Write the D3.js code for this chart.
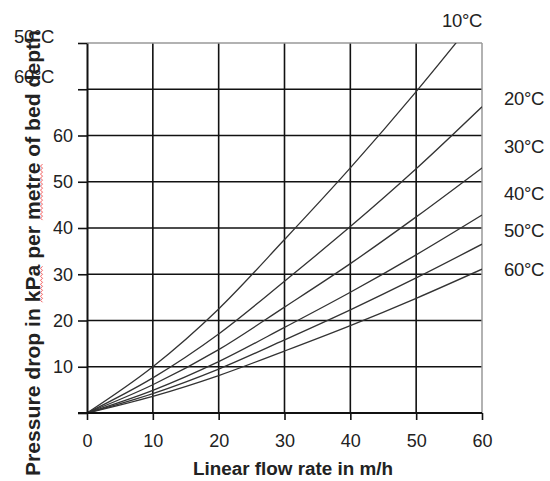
<!DOCTYPE html>
<html>
<head>
<meta charset="utf-8">
<script src="https://cdn.jsdelivr.net/npm/d3@7"></script>
<style>
  body { margin: 0; background: #fff; }
  text { font-family: "Liberation Sans", Arial, sans-serif; fill: #222; }
</style>
</head>
<body>
<div id="chart"></div>
<script>
// flow rate (m/h)
const flowRates = [0, 10, 20, 30, 40, 50, 60];
// pressure drop (kPa per metre of bed depth) for each water temperature
const temps = ["10°C", "20°C", "30°C", "40°C", "50°C", "60°C"];
const drop10 = [0, 10, 22.5, 37.5, 53, 69.5, 87];
const drop20 = [0, 7.6, 17.1, 28.5, 40.3, 52.8, 66.2];
const drop30 = [0, 6.1, 13.7, 22.9, 32.3, 42.4, 53];
const drop40 = [0, 4.9, 11.1, 18.5, 26.1, 34.2, 42.8];
const drop50 = [0, 4.2, 9.5, 15.8, 22.3, 29.2, 36.5];
const drop60 = [0, 3.6, 8.1, 13.4, 18.9, 24.8, 31.1];
const xTicks = [0, 10, 20, 30, 40, 50, 60];
const yTicks = [0, 10, 20, 30, 40, 50, 60, 70, 80];
const yLabels = [10, 20, 30, 40, 50, 60];

const series = [drop10, drop20, drop30, drop40, drop50, drop60];

const width = 550, height = 481;
const margin = {top: 43, right: 68, bottom: 68, left: 87};
const innerWidth = width - margin.left - margin.right;
const innerHeight = height - margin.top - margin.bottom;

const svg = d3.select("#chart").append("svg")
  .attr("width", width)
  .attr("height", height);

const g = svg.append("g")
  .attr("transform", `translate(${margin.left},${margin.top})`);

const xScale = d3.scaleLinear().domain([0, 60]).range([0, innerWidth]);
const yScale = d3.scaleLinear().domain([0, 80]).range([innerHeight, 0]);

// grid
g.selectAll(".vgrid").data(xTicks.slice(1, -1)).enter().append("line")
  .attr("x1", d => xScale(d)).attr("x2", d => xScale(d))
  .attr("y1", 0).attr("y2", innerHeight)
  .attr("stroke", "#111").attr("stroke-width", 1.6);
g.selectAll(".hgrid").data(yTicks.slice(1, -1)).enter().append("line")
  .attr("x1", 0).attr("x2", innerWidth)
  .attr("y1", d => yScale(d)).attr("y2", d => yScale(d))
  .attr("stroke", "#111").attr("stroke-width", 1.6);

// light frame top/right
g.append("line").attr("x1", 0).attr("x2", innerWidth).attr("y1", 0).attr("y2", 0)
  .attr("stroke", "#999").attr("stroke-width", 1.5);
g.append("line").attr("x1", innerWidth).attr("x2", innerWidth).attr("y1", 0).attr("y2", innerHeight)
  .attr("stroke", "#999").attr("stroke-width", 1.5);

// curves
g.append("clipPath").attr("id", "clip").append("rect")
  .attr("width", innerWidth).attr("height", innerHeight);

const line = d3.line()
  .x((d, i) => xScale(flowRates[i]))
  .y(d => yScale(d))
  .curve(d3.curveMonotoneX);

g.append("g").attr("clip-path", "url(#clip)")
  .selectAll("path").data(series).enter().append("path")
  .attr("d", line)
  .attr("fill", "none")
  .attr("stroke", "#333")
  .attr("stroke-width", 1.3);

// axes
const xAxis = g.append("g")
  .attr("transform", `translate(0,${innerHeight})`)
  .call(d3.axisBottom(xScale).tickValues(xTicks).tickSize(7).tickPadding(14).tickSizeOuter(0));
const yAxis = g.append("g")
  .call(d3.axisLeft(yScale).tickValues(yTicks).tickSize(9).tickPadding(5).tickSizeOuter(0)
    .tickFormat(d => yLabels.includes(d) ? d : ""));

[xAxis, yAxis].forEach(a => {
  a.select(".domain").attr("stroke", "#111").attr("stroke-width", 2);
  a.selectAll(".tick line").attr("stroke", "#111").attr("stroke-width", 1.6);
  a.selectAll("text").attr("font-size", 18).attr("fill", "#222")
    .attr("font-family", "Liberation Sans, Arial, sans-serif");
});
xAxis.select(".domain").attr("d", `M-9,0H${innerWidth}`);

// temperature labels
const labelPos = [[462, 27], [524, 105], [524, 153], [524, 200], [524, 237], [524, 276]];
svg.selectAll(".tlabel").data(temps).enter().append("text")
  .attr("x", (d, i) => labelPos[i][0])
  .attr("y", (d, i) => labelPos[i][1])
  .attr("text-anchor", "middle")
  .attr("font-size", 18.5)
  .attr("letter-spacing", -0.3)
  .text(d => d);

// axis titles
svg.append("text")
  .attr("x", 293).attr("y", 475)
  .attr("text-anchor", "middle")
  .attr("font-size", 18).attr("font-weight", "bold")
  .attr("textLength", 200).attr("lengthAdjust", "spacingAndGlyphs")
  .text("Linear flow rate in m/h");

const yTitleG = svg.append("g").attr("transform", "translate(40,253) rotate(-90)");
const yTitle = yTitleG.append("text")
  .attr("text-anchor", "middle")
  .attr("font-size", 20).attr("font-weight", "bold")
  .attr("textLength", 446).attr("lengthAdjust", "spacingAndGlyphs")
  .text("Pressure drop in kPa per metre of bed depth");

// red spell-check squiggles under "kPa" and "metre"
const titleStr = "Pressure drop in kPa per metre of bed depth";
const node = yTitle.node();
["kPa", "metre"].forEach(w => {
  const i0 = titleStr.indexOf(w);
  const s = node.getStartPositionOfChar(i0).x;
  const e = node.getEndPositionOfChar(i0 + w.length - 1).x;
  const pts = d3.range(s, e, 2).map((x, k) => [x, k % 2 ? 0.5 : 2.5]);
  yTitleG.append("path")
    .attr("d", d3.line()(pts))
    .attr("fill", "none")
    .attr("stroke", "#e33")
    .attr("stroke-width", 1)
    .attr("opacity", 0.8);
});

// stray labels overlapping the y title
svg.selectAll(".stray").data(temps.slice(4)).enter().append("text")
  .attr("x", 14)
  .attr("y", (d, i) => 43 + i * 40)
  .attr("font-size", 18.5)
  .attr("letter-spacing", -0.3)
  .attr("fill", "#333")
  .text(d => d);
</script>
</body>
</html>
